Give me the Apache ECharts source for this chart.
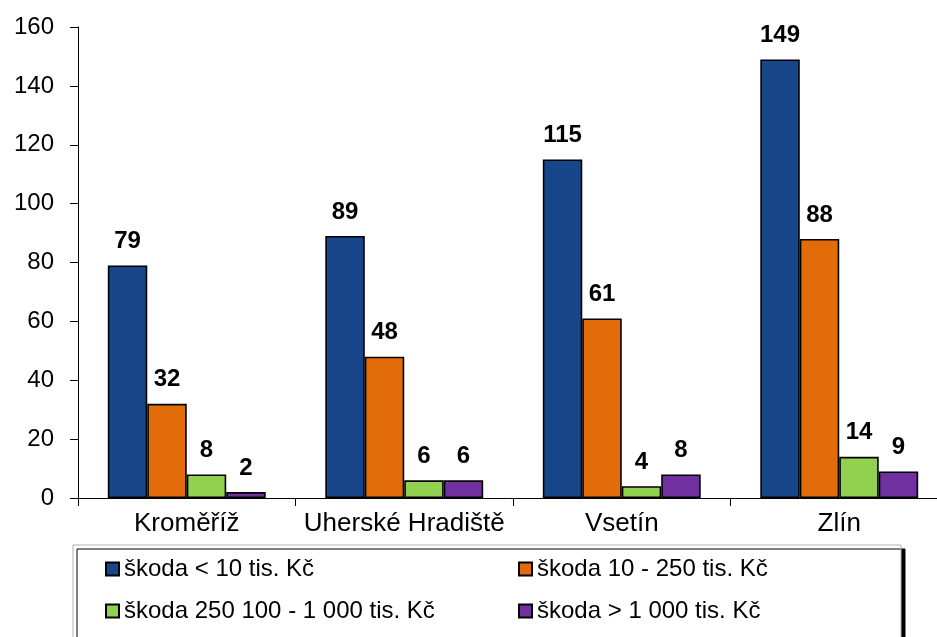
<!DOCTYPE html>
<html>
<head>
<meta charset="utf-8">
<script src="https://cdn.jsdelivr.net/npm/echarts@6/dist/echarts.min.js"></script>
<style>
  html, body { margin: 0; padding: 0; background: #fff; }
  #chart { width: 937px; height: 637px; }
</style>
</head>
<body>
<div id="chart"></div>
<script>
// okresy
const categories = ['Kroměříž', 'Uherské Hradiště', 'Vsetín', 'Zlín']
// počty podle výše škody
const seriesNames = [
  'škoda < 10 tis. Kč',
  'škoda 10 - 250 tis. Kč',
  'škoda 250 100 - 1 000 tis. Kč',
  'škoda > 1 000 tis. Kč'
]
const under10 = [79, 89, 115, 149]
const from10to250 = [32, 48, 61, 88]
const from250to1000 = [8, 6, 4, 14]
const over1000 = [2, 6, 8, 9]
const yTicks = [0, 20, 40, 60, 80, 100, 120, 140, 160]

const colors = ['#17468a', '#e36c0a', '#92d050', '#7030a0']
const font = '"Liberation Sans", Arial, sans-serif'

let chart = echarts.init(document.getElementById('chart'))

const values = [under10, from10to250, from250to1000, over1000]
let series = []
for (let i = 0; i < values.length; i++) {
  series.push({
    name: seriesNames[i],
    type: 'bar',
    data: values[i],
    barGap: 0,
    barCategoryGap: '27.4%',
    itemStyle: { color: colors[i], borderColor: '#000', borderWidth: 1.6 },
    label: {
      show: true,
      position: 'top',
      distance: 12,
      fontFamily: font,
      fontWeight: 'bold',
      fontSize: 24,
      color: '#000'
    }
  })
}

// sirka textu v legende, aby byly dve polozky na radek
const legendTextWidth = [394, 340, 394, 340]

chart.setOption({
  animation: false,
  grid: { left: 78, top: 27, width: 870, height: 471, outerBoundsMode: 'none' },
  xAxis: {
    type: 'category',
    data: categories,
    axisLine: { lineStyle: { color: '#000', width: 1 } },
    axisTick: { show: true, interval: 0, length: 8, lineStyle: { color: '#000' } },
    axisLabel: {
      interval: 0,
      hideOverlap: false,
      fontFamily: font,
      fontSize: 26,
      color: '#000',
      margin: 13
    }
  },
  yAxis: {
    type: 'value',
    min: yTicks[0],
    max: yTicks[yTicks.length - 1],
    interval: 20,
    axisLine: { show: true, lineStyle: { color: '#000', width: 1 } },
    axisTick: { show: true, length: 8, lineStyle: { color: '#000' } },
    splitLine: { show: false },
    axisLabel: { fontFamily: font, fontSize: 24, color: '#000', margin: 24 }
  },
  legend: {
    left: 73,
    top: 545,
    width: 780,
    orient: 'horizontal',
    itemWidth: 13,
    itemHeight: 13,
    itemGap: 0,
    padding: [3, 24, 12, 32],
    borderColor: '#b0b0b0',
    borderWidth: 1,
    backgroundColor: '#fff',
    shadowColor: '#000',
    shadowOffsetX: 4,
    shadowOffsetY: 4,
    shadowBlur: 0,
    textStyle: { fontFamily: font, fontSize: 24, color: '#000', lineHeight: 42 },
    data: seriesNames.map((n, i) => ({
      name: n,
      icon: 'rect',
      textStyle: { width: legendTextWidth[i] }
    }))
  },
  series: series
})
</script>
</body>
</html>
